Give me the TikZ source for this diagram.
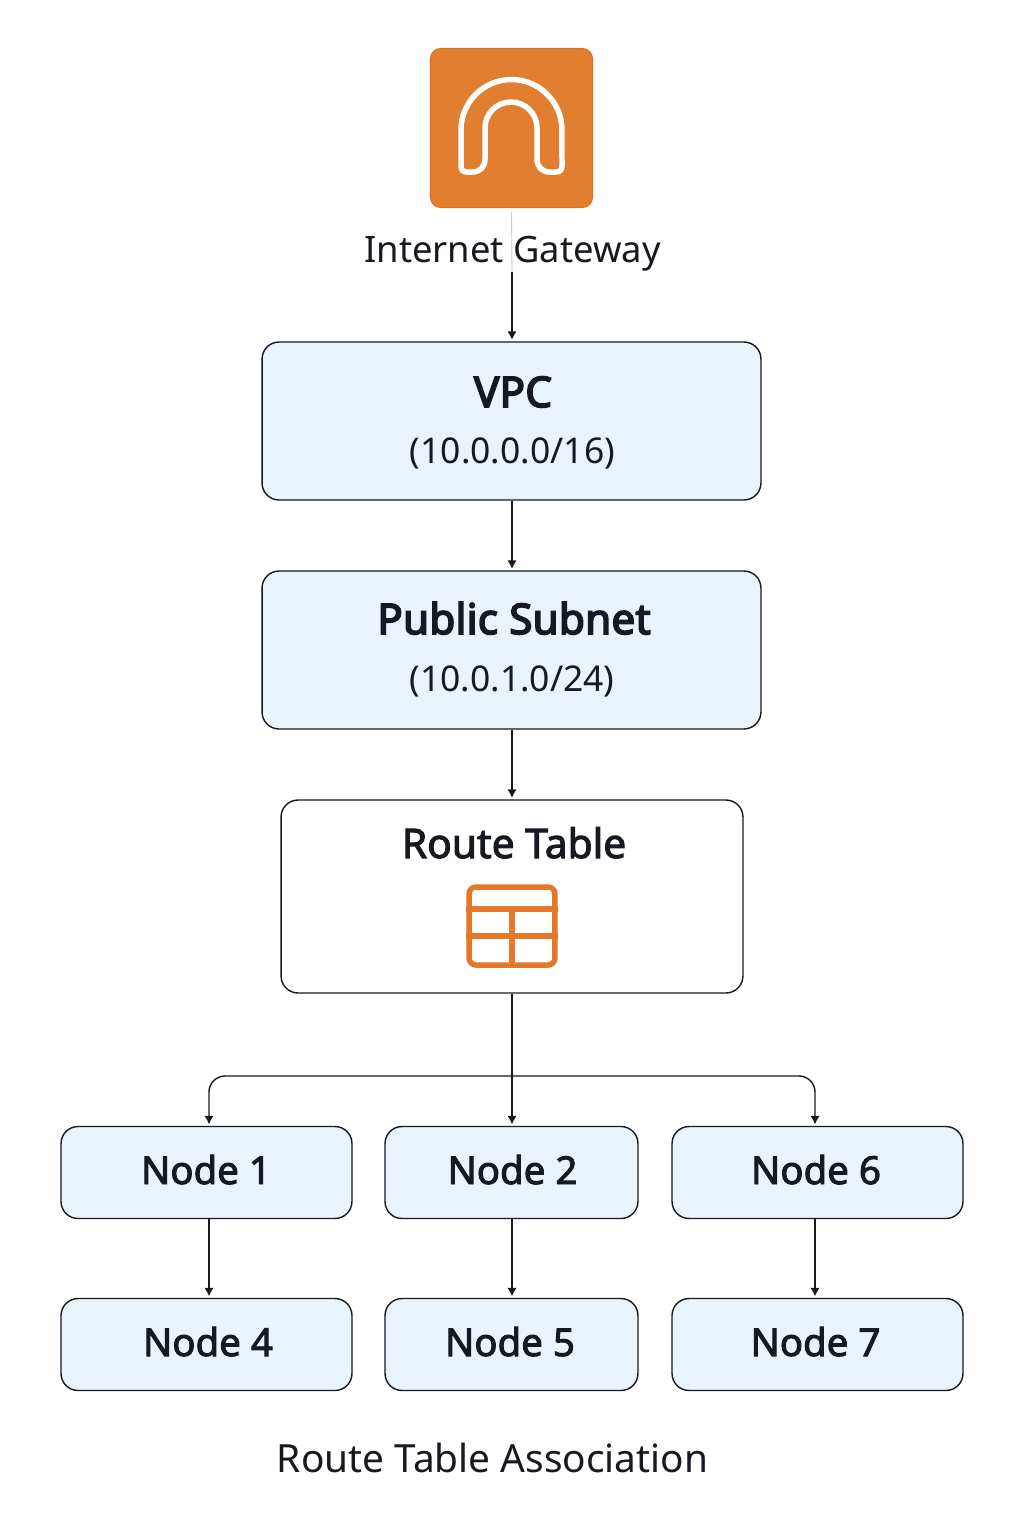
\documentclass[tikz,border=0pt]{standalone}
\usepackage{fontspec}
\setmainfont{Noto Sans}
\usetikzlibrary{arrows.meta}
\definecolor{boxfill}{HTML}{EAF2FB}
\definecolor{inkdark}{HTML}{16191F}
\definecolor{gwfill}{HTML}{E27E30}
\definecolor{gwedge}{HTML}{E2701E}
\definecolor{iconline}{HTML}{E4772A}
\newfontfamily\medfont[FakeBold=2.5]{Noto Sans}
\newfontfamily\heavyfont[FakeBold=4,LetterSpace=0.6]{Noto Sans}
\tikzset{
    box/.style={draw=inkdark,fill=boxfill,rounded corners=0.34cm,line width=0.8pt,inner sep=0pt},
    label/.style={inner sep=0pt,anchor=base,text=inkdark},
    link/.style={draw=inkdark,line width=0.8pt,shorten >=0.03cm,-{Latex[length=0.17cm,width=0.19cm]}},
    icon/.style={draw=iconline,line width=0.11cm,line join=round}
}
\begin{document}
\begin{tikzpicture}[x=0.02cm,y=-0.02cm]
    \useasboundingbox (0,0) rectangle (1024,1536);

    % gateway
    \node (gateway) at (511.5,128)[fill=gwfill,draw=gwedge,line width=0.6pt,rounded corners=0.2cm,minimum width=3.24cm,minimum height=3.18cm,inner sep=0pt]{};
    \draw[white,line width=0.11cm,line join=round] (461,130) arc[start angle=180,end angle=0,radius=1.01cm]
        -- (562,166) .. controls (562,170) and (560,172) .. (556,172) -- (550,172)
        .. controls (542,172) and (537,167) .. (537,159) -- (537,128)
        arc[start angle=0,end angle=180,radius=0.52cm]
        -- (485,159) .. controls (485,167) and (480,172) .. (472,172) -- (467,172)
        .. controls (463,172) and (461,170) .. (461,166) -- cycle;
    \node[label,font=\fontsize{20.7pt}{24pt}\selectfont] (gatewaytext) at (512.5,262){Internet Gateway};

    % big boxes
    \foreach \name/\y/\w/\h in {vpc/421/9.98/3.16, subnet/650/9.98/3.16}
        {
            \node[box,minimum width=\w cm,minimum height=\h cm] (\name) at (511.5,\y){};
        }
    \node[box,fill=white,minimum width=9.24cm,minimum height=3.86cm] (route) at (512,896.5){};

    \node[label,font=\fontsize{24pt}{26pt}\heavyfont] (vpctitle) at (513,407){VPC};
    \node[label,font=\fontsize{24pt}{26pt}\heavyfont] (subnettitle) at (514,634){Public Subnet};
    \node[label,font=\fontsize{20.2pt}{24pt}\selectfont] (vpccidr) at (512.5,463){(10.0.0.0/16)};
    \node[label,font=\fontsize{20.2pt}{24pt}\selectfont] (subnetcidr) at (512,691){(10.0.1.0/24)};
    \node[label,font=\fontsize{23.2pt}{26pt}\medfont] (routetitle) at (514,858){Route Table};

    % table icon
    \node (tableicon) at (512,926)[icon,rounded corners=0.14cm,minimum width=1.72cm,minimum height=1.56cm,inner sep=0pt]{};
    \draw[icon] (tableicon.west |- 0,909) -- (tableicon.east |- 0,909);
    \draw[icon] (tableicon.west |- 0,936) -- (tableicon.east |- 0,936);
    \draw[icon] (512,909) -- (tableicon.south);

    % small boxes
    \foreach \name/\x/\y/\w/\tx/\t in {nodea/206.5/1172.5/5.82/206/Node 1, nodeb/511.5/1172.5/5.06/512.5/Node 2, nodef/817.5/1172.5/5.82/816/Node 6,
        noded/206.5/1344.5/5.82/208/Node 4, nodee/511.5/1344.5/5.06/510/Node 5, nodeg/817.5/1344.5/5.82/815.5/Node 7}
        {
            \node[box,minimum width=\w cm,minimum height=1.84cm] (\name) at (\x,\y){};
            \node[label,font=\fontsize{21.9pt}{24pt}\medfont] (\name text) at (\tx,\y+11.5){\t};
        }

    % links
    \coordinate (gwbreak) at (512,272);
    \coordinate (fork) at (512,1076);
    \draw[draw=black!20,line width=0.5pt] (gateway.south) ++(0,4) -- (gwbreak);
    \draw[link] (gwbreak) -- (gwbreak |- vpc.north);
    \draw[link] (vpc.south -| gwbreak) -- (gwbreak |- subnet.north);
    \draw[link] (subnet.south -| gwbreak) -- (gwbreak |- route.north);
    \draw[link] (route.south) -- (route.south |- nodeb.north);
    \draw[link,rounded corners=0.32cm] (fork) -| ([xshift=0.05cm]nodea.north);
    \draw[link,rounded corners=0.32cm] (fork) -| ([xshift=-0.05cm]nodef.north);
    \draw[link] ([xshift=0.05cm]nodea.south) -- ([xshift=0.05cm]noded.north);
    \draw[link] ([xshift=0.01cm]nodeb.south) -- ([xshift=0.01cm]nodee.north);
    \draw[link] ([xshift=-0.05cm]nodef.south) -- ([xshift=-0.05cm]nodeg.north);

    \node[label,font=\fontsize{22.1pt}{24pt}\selectfont] (caption) at (492.5,1472){Route Table Association};
\end{tikzpicture}
\end{document}
